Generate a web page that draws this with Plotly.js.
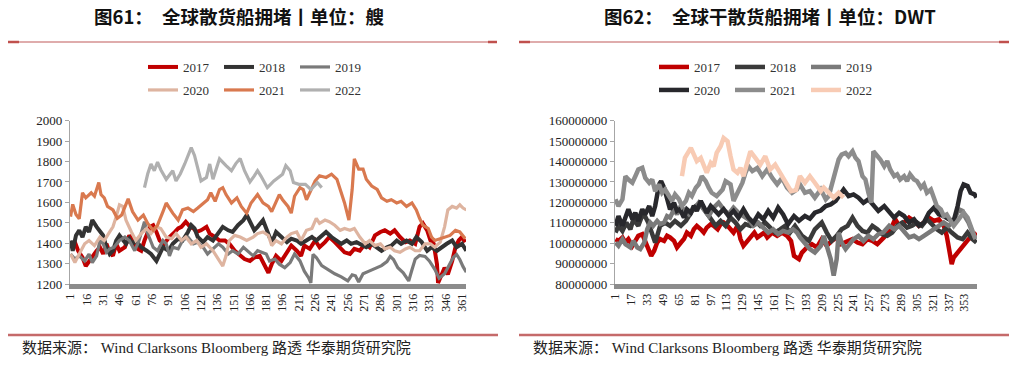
<!DOCTYPE html>
<html><head><meta charset="utf-8">
<script src="https://cdn.plot.ly/plotly-3.0.1.min.js"></script>
<style>html,body{margin:0;padding:0;background:#fff}#chart{width:1015px;height:378px}</style>
</head><body><div id="chart"></div>
<script>
// ---------- Left chart: 全球散货船拥堵 (艘) ----------
const L_ticks = [1,16,31,46,61,76,91,106,121,136,151,166,181,196,211,226,241,256,271,286,301,316,331,346,361];

const L17_day = [1,5,8,12,15,18,21,25,28,31,34,37,40,43,46,51,55,58,63,66,69,74,77,80,83,87,92,97,100,103,107,111,114,117,121,126,129,134,138,143,147,152,157,161,166,170,175,180,183,186,190,195,200,204,209,213,216,221,226,230,235,239,244,249,253,258,262,267,272,276,281,286,290,295,299,304,309,313,318,322,325,329,332,335,338,339,342,345,348,352,355,358,361,364];
const L17_val = [1380,1405,1363,1330,1288,1313,1338,1363,1380,1347,1397,1355,1338,1397,1363,1380,1438,1413,1372,1363,1413,1480,1488,1455,1413,1397,1430,1455,1472,1480,1505,1480,1472,1455,1463,1480,1447,1430,1413,1413,1397,1363,1338,1322,1313,1330,1338,1280,1255,1297,1338,1313,1355,1388,1363,1338,1388,1372,1413,1380,1405,1430,1405,1380,1355,1347,1372,1363,1397,1380,1438,1455,1463,1447,1463,1430,1405,1413,1397,1480,1497,1463,1413,1397,1297,1205,1247,1280,1247,1313,1380,1413,1430,1405];

const L18_day = [1,3,6,9,12,15,18,21,25,28,31,34,37,40,43,46,49,52,55,58,61,66,71,75,80,83,86,91,95,100,104,109,112,115,118,123,127,132,137,141,146,150,155,160,163,166,170,173,178,181,184,187,190,195,200,204,209,213,218,223,227,232,236,241,246,250,255,259,264,269,273,278,283,287,292,296,301,305,310,315,319,324,329,333,338,342,347,352,356,361,365];
const L18_val = [1413,1363,1438,1463,1430,1480,1455,1513,1480,1455,1438,1380,1347,1363,1413,1438,1413,1397,1422,1397,1413,1380,1363,1347,1313,1347,1380,1363,1397,1422,1413,1455,1488,1472,1430,1405,1430,1413,1455,1480,1463,1455,1488,1513,1538,1505,1463,1480,1513,1472,1430,1413,1455,1430,1405,1422,1413,1397,1413,1430,1413,1438,1455,1430,1413,1397,1413,1397,1405,1388,1380,1397,1380,1363,1380,1388,1413,1397,1413,1397,1430,1405,1363,1380,1363,1380,1397,1413,1380,1397,1363];

const L19_day = [1,5,9,14,18,21,25,28,31,34,37,41,46,51,55,60,64,69,72,77,81,86,89,92,95,100,104,109,114,118,123,127,132,137,141,146,150,155,160,164,169,173,178,181,184,189,193,198,203,207,212,216,220,222,224,227,232,238,244,250,256,260,263,266,270,275,281,287,292,295,298,302,307,312,315,318,322,327,331,336,340,345,350,353,356,359,362,365];
const L19_val = [1347,1322,1338,1313,1347,1305,1338,1413,1397,1355,1372,1380,1413,1430,1413,1363,1413,1505,1447,1380,1363,1413,1397,1338,1380,1372,1413,1430,1397,1405,1380,1347,1372,1397,1380,1347,1363,1347,1380,1363,1338,1363,1355,1347,1313,1322,1297,1280,1305,1347,1313,1263,1230,1205,1345,1330,1290,1270,1250,1235,1215,1245,1240,1210,1250,1262,1275,1290,1310,1335,1320,1280,1255,1215,1270,1322,1340,1335,1313,1272,1228,1250,1300,1330,1345,1320,1285,1258];

const L20_day = [1,5,9,14,18,23,28,32,37,40,43,46,49,52,57,61,66,71,75,80,84,89,94,98,103,107,112,117,121,126,132,137,141,144,147,152,157,163,169,173,178,183,186,190,195,200,204,209,213,218,223,227,230,235,239,244,249,253,258,262,267,272,276,281,286,290,295,299,304,309,313,318,322,327,332,336,341,345,348,352,356,359,362,365];
const L20_val = [1347,1305,1347,1397,1413,1388,1430,1413,1455,1480,1530,1588,1580,1513,1455,1413,1447,1472,1447,1480,1472,1430,1422,1447,1413,1430,1397,1413,1380,1397,1363,1322,1288,1338,1413,1438,1430,1413,1430,1447,1455,1438,1388,1413,1397,1430,1447,1455,1413,1463,1472,1522,1497,1513,1505,1488,1463,1472,1463,1472,1430,1397,1413,1388,1397,1372,1380,1363,1355,1372,1380,1363,1363,1397,1397,1380,1405,1480,1563,1580,1572,1588,1572,1563];

const L21_day = [1,3,6,9,12,15,20,23,27,29,32,35,40,44,48,54,58,63,68,72,77,81,86,89,92,95,100,104,109,114,118,123,127,130,134,138,141,144,149,154,158,163,167,173,178,183,186,193,196,201,204,207,212,215,218,221,226,230,236,241,246,249,253,257,260,262,266,270,273,278,283,287,292,296,301,305,310,315,319,322,325,330,333,336,341,345,350,355,359,364];
const L21_val = [1530,1590,1540,1520,1647,1622,1647,1630,1697,1638,1622,1580,1563,1522,1538,1617,1555,1513,1538,1497,1463,1488,1555,1597,1572,1547,1513,1563,1572,1555,1572,1597,1613,1647,1605,1663,1672,1638,1597,1622,1580,1547,1597,1638,1597,1580,1555,1638,1613,1580,1547,1630,1672,1663,1613,1647,1705,1730,1722,1738,1713,1663,1597,1513,1663,1813,1763,1763,1713,1680,1663,1622,1605,1613,1597,1605,1580,1597,1563,1522,1488,1472,1430,1413,1422,1430,1438,1463,1455,1422];

const L22_day = [69,72,75,78,81,84,89,95,98,102,106,109,112,115,118,121,126,129,132,138,144,149,153,157,161,166,170,173,176,182,188,196,199,203,206,211,217,222,228,232];
const L22_val = [1672,1740,1788,1755,1797,1760,1713,1755,1705,1740,1788,1830,1868,1830,1760,1705,1722,1788,1713,1813,1780,1755,1790,1815,1755,1700,1730,1755,1730,1672,1705,1738,1780,1755,1697,1688,1688,1663,1697,1672];

// ---------- Right chart: 全球干散货船拥堵 (DWT, values in millions) ----------
const R_ticks = [1,17,33,49,65,81,97,113,129,145,161,177,193,209,225,241,257,273,289,305,321,337,353];

const R17_day = [1,4,8,11,14,18,21,24,28,31,35,37,40,43,46,50,53,56,60,63,67,70,73,77,80,83,87,90,93,97,100,104,107,110,114,117,120,124,127,130,134,137,141,144,147,151,154,159,164,169,174,178,181,184,186,189,194,199,204,209,214,219,224,228,235,240,245,250,255,260,265,270,275,280,283,287,292,297,302,307,312,317,322,327,332,335,338,340,342,346,349,352,357,362,365];
const R17_valM = [102,101.1,102.8,100.3,102,98.7,101.1,103.6,104.4,101.1,97.1,93.8,96.3,100.3,102,101.1,103.6,102.8,101.1,97.9,100.3,102,105.2,103.6,106.8,108.5,106.8,105.2,107.6,109.3,108.5,106.8,109.3,110.1,108.5,106.8,105.2,108.5,102,98.7,101.1,103.6,105.2,102.8,103.6,105.2,102.8,105.2,103.6,105.2,103.6,101.1,93.8,93,92.2,95.4,97.9,99.5,97.9,102,98.7,101.1,102.8,99.5,101.1,102,100.3,99.5,102,101.1,99.5,102,104.4,108.5,111.7,108.5,110.1,112.5,110.9,108.5,110.1,112.5,110.9,111.7,108.5,103.6,95.4,89.8,93,95.4,97.1,99.5,102,103.6,105.2];

const R18_day = [1,4,8,12,16,19,24,29,34,38,41,46,51,56,61,67,72,77,82,87,92,97,102,107,112,117,122,127,132,137,142,147,152,157,162,167,172,177,182,189,196,202,209,214,219,224,229,235,240,245,250,255,260,265,270,275,280,285,290,295,300,305,310,315,320,325,330,335,340,346,351,356,361,365];
const R18_valM = [105.2,108.5,106,110.1,106.8,111.7,108.5,114.9,110.1,103.6,100.3,108.5,110.1,108.5,110.9,108.5,110.9,114.9,118.2,119,115.8,112.5,108.5,110.9,108.5,112.5,110.1,106.8,109.3,108.5,110.9,108.5,110.1,107.6,105.2,106.8,108.5,105.2,108.5,103.6,101.1,106.8,110.1,105.2,101.1,103.6,106.8,108.5,112.5,108.5,106,105.2,108.5,106.8,104.4,103.6,105.2,108.5,110.1,107.6,108.5,110.1,108.5,111.7,109.3,106.8,105.2,107.6,105.2,102.8,102,105.2,102,100.3];

const R19_day = [1,4,8,11,16,19,23,26,30,33,36,39,43,46,50,53,56,60,63,66,70,75,80,85,90,95,100,105,110,115,120,125,130,135,140,145,150,155,160,165,170,175,180,184,187,192,197,202,208,211,214,218,221,224,226,229,233,236,241,246,251,256,261,266,271,277,282,287,292,297,302,307,312,317,322,327,332,337,342,347,351,354,357,361,364];
const R19_valM = [100.3,98.7,102,99.5,97.9,101.1,97.9,97.1,100.3,106.8,110.1,108.5,110.9,109.3,110.1,113.3,112.5,116.6,114.1,117.4,116.6,114.1,116.6,119.8,116.6,113.3,117.4,119.8,116.6,114.1,117.4,114.9,113.3,111.7,108.5,110.1,107.6,105.2,106.8,104.4,106,105.2,106.8,105.2,102.8,100.3,97.1,95.4,98.7,103.6,98.7,92.2,84.1,92.2,105.2,100.3,97.1,98.7,102,103.6,101.1,103.6,102,104.4,105.2,108.5,106.8,108.5,105.2,102.8,103.6,102,103.6,105.2,106.8,108.5,110.1,108.5,110.9,116.6,115.8,112.5,110.1,105.2,102];

const R20_day = [1,4,8,11,14,18,21,24,28,31,35,38,41,45,47,50,53,56,60,63,66,70,73,77,80,83,87,90,93,97,100,105,110,115,120,125,130,135,140,145,150,155,160,165,170,175,181,186,192,197,202,208,213,218,223,231,236,241,246,251,256,261,266,272,277,282,287,292,297,302,307,312,317,322,327,332,337,342,346,349,352,356,359,363,365];
const R20_valM = [108.5,113.3,108.5,113.3,116.6,111.7,114.9,110.9,116.6,114.1,118.2,113.3,118.2,128.8,130.4,127.2,121.5,116.6,119.8,115.8,116.6,112.5,116.6,114.9,118.2,115.8,120.7,117.4,114.9,118.2,116.6,114.1,116.6,113.3,115.8,112.5,116.6,112.5,110.1,114.1,111.7,115.8,112.5,117.4,114.1,109.3,113.3,111,113.3,112,114.9,116,118.2,119,120.7,126.3,123.1,123.9,122.3,119.8,121.5,118.2,115.8,118.2,114.9,112.5,114.9,113.3,110.1,111.7,108.5,110.1,114.9,117.4,114.1,113.3,111.7,110.9,118.2,125.5,128.8,128,124.7,123.9,122.3];

const R21_day = [1,4,8,11,14,18,21,24,28,31,35,38,41,45,48,51,55,58,61,65,68,72,75,78,82,85,88,92,95,98,103,109,112,117,120,125,129,132,135,139,144,149,154,159,164,169,174,179,184,187,192,197,202,208,213,216,219,223,226,229,233,236,240,243,246,250,253,256,259,261,265,268,272,275,278,282,285,288,292,295,298,302,305,309,312,315,319,322,325,329,332,335,339,342,347,352,356,359,364];
const R21_valM = [121.5,118.2,121.5,132.8,131.2,129.6,132.8,136.1,136.9,132,129.6,131.2,125.5,128.8,124.7,126.3,123.1,120.7,123.9,121.5,118.2,120.7,124.7,123.1,127.2,128.8,132.8,130.4,127.2,124.7,123.1,126.3,130.4,128.8,120.7,126.3,129.6,134.5,137.7,135.3,136.9,132.8,136.1,132,128.8,132,127.2,124.7,126.3,128.8,124.7,125.5,122.3,126.3,121.5,123.1,128,136.1,141,143.4,144.2,142.6,145,141.8,140.2,132.8,131.2,124.7,119.8,145,142.6,141,137.7,140.2,136.1,132.8,133.7,131.2,132.8,130.4,133.7,131.2,130.4,127.2,128.8,124.7,126.3,121.5,118.2,116.6,113.3,114.1,110.9,108.5,111.7,114.9,112.5,108.5,102];

const R22_day = [68,71,77,80,83,87,90,93,97,100,103,107,110,114,117,120,124,127,130,134,137,142,147,152,157,162,167,173,178,183,187,192,197,202,208,211,216,221,226,231];
const R22_valM = [132.8,141.8,146.7,143.4,140.2,141.8,138.5,134.5,139.3,137.7,144.2,147.5,151.5,149.9,142.6,136.1,134.5,136.9,132.8,139.3,145,141.8,138.5,142.6,136.1,138.5,134.5,129.6,125.5,126,132.8,129.6,132.8,129.6,125.5,127.2,124.7,122.3,124.7,122.3];

const YEARS = ['2017','2018','2019','2020','2021','2022'];

// ---------- build ----------
const W = 1015, H = 378;
const px = x => x / W, py = y => 1 - y / H;
const SERIF = '"Liberation Serif", "Times New Roman", "Noto Sans CJK SC", serif';
const CJK = '"Noto Sans CJK SC", "Liberation Sans", sans-serif';
const M = a => a.map(v => v * 1e6);

function tr(x, y, name, color, width, xa, ya, leg) {
  return {type:'scatter', mode:'lines', x, y, name, xaxis:xa, yaxis:ya, legend:leg,
    line:{color, width, shape:'linear'}, hoverinfo:'skip'};
}

const data = [
  tr(L17_day, L17_val, YEARS[0], '#c00000', 4,   'x', 'y', 'legend'),
  tr(L18_day, L18_val, YEARS[1], '#333333', 4,   'x', 'y', 'legend'),
  tr(L19_day, L19_val, YEARS[2], '#7a7a7a', 3.2, 'x', 'y', 'legend'),
  tr(L20_day, L20_val, YEARS[3], '#deb4a0', 3.2, 'x', 'y', 'legend2'),
  tr(L21_day, L21_val, YEARS[4], '#d9794f', 3.2, 'x', 'y', 'legend2'),
  tr(L22_day, L22_val, YEARS[5], '#b0b0b0', 3.2, 'x', 'y', 'legend2'),

  tr(R17_day, M(R17_valM), YEARS[0], '#c00000', 4.5, 'x2', 'y2', 'legend3'),
  tr(R18_day, M(R18_valM), YEARS[1], '#3a3a3a', 4.5, 'x2', 'y2', 'legend3'),
  tr(R19_day, M(R19_valM), YEARS[2], '#7a7a7a', 4.5, 'x2', 'y2', 'legend3'),
  tr(R20_day, M(R20_valM), YEARS[3], '#28282c', 4.5, 'x2', 'y2', 'legend4'),
  tr(R21_day, M(R21_valM), YEARS[4], '#8c8c8c', 4.5, 'x2', 'y2', 'legend4'),
  tr(R22_day, M(R22_valM), YEARS[5], '#f8cbb4', 4.5, 'x2', 'y2', 'legend4')
];

const xBase = {
  tickangle:-90, tickfont:{family:SERIF, size:12, color:'#222'},
  showline:true, linecolor:'#8c8c8c', linewidth:5, showgrid:false, zeroline:false,
  ticks:'', tickmode:'array', fixedrange:true
};
const yBase = {
  tickfont:{family:SERIF, size:13, color:'#222'}, showline:true, linecolor:'#a6a6a6', linewidth:1.2,
  ticks:'outside', ticklen:4, tickcolor:'#a6a6a6', showgrid:false, zeroline:false, fixedrange:true
};
const yDom = [py(284), py(120.7)];

function legendAt(x, y) {
  return {orientation:'h', x:px(x), y:py(y), xanchor:'left', yanchor:'top',
    font:{family:SERIF, size:13, color:'#333'}, entrywidth:31, entrywidthmode:'pixels',
    bgcolor:'rgba(0,0,0,0)', borderwidth:0, traceorder:'normal', itemclick:false, itemdoubleclick:false};
}

const ruleC = '#d49090', ruleEnd = '#c0504d', footC = '#c56a6a';
function hline(x0, x1, y, color, width) {
  return {type:'line', xref:'paper', yref:'paper', x0:px(x0), x1:px(x1), y0:py(y), y1:py(y), line:{color, width}};
}

const SRC = '数据来源： Wind Clarksons Bloomberg 路透 华泰期货研究院';

const layout = {
  width:W, height:H, margin:{l:0, r:0, t:0, b:0},
  paper_bgcolor:'#fff', plot_bgcolor:'#fff',
  xaxis: Object.assign({}, xBase, {domain:[px(70), px(466)], range:[0.5, 364.7], tickvals:L_ticks, ticktext:L_ticks.map(String), anchor:'y'}),
  yaxis: Object.assign({}, yBase, {domain:yDom, range:[1200, 2000], dtick:100, tick0:1200, anchor:'x'}),
  xaxis2: Object.assign({}, xBase, {domain:[px(615), px(977)], range:[0.5, 365.5], tickvals:R_ticks, ticktext:R_ticks.map(String), anchor:'y2'}),
  yaxis2: Object.assign({}, yBase, {domain:yDom, range:[80e6, 160e6], dtick:1e7, tick0:80e6, tickformat:'d', exponentformat:'none', anchor:'x2'}),
  legend: legendAt(143, 52),
  legend2: legendAt(143, 75),
  legend3: legendAt(654, 52),
  legend4: legendAt(654, 75),
  shapes: [
    hline(8, 497, 42, ruleC, 1.5), hline(8, 19, 42, ruleEnd, 2.5), hline(488, 497, 42, ruleEnd, 2.5),
    hline(519, 1009, 42, ruleC, 1.5), hline(519, 530, 42, ruleEnd, 2.5), hline(999, 1009, 42, ruleEnd, 2.5),
    hline(8, 498, 335, footC, 2.5), hline(519, 1009, 335, footC, 2.5)
  ],
  annotations: [
    {xref:'paper', yref:'paper', x:px(239), y:py(16), xanchor:'center', yanchor:'middle', showarrow:false,
     text:'<b>图61：　全球散货船拥堵丨单位：艘</b>', font:{family:CJK, size:18.5, color:'#111'}},
    {xref:'paper', yref:'paper', x:px(770), y:py(16), xanchor:'center', yanchor:'middle', showarrow:false,
     text:'<b>图62：　全球干散货船拥堵丨单位：DWT</b>', font:{family:CJK, size:18.5, color:'#111'}},
    {xref:'paper', yref:'paper', x:px(20), y:py(347), xanchor:'left', yanchor:'middle', showarrow:false,
     text:SRC, font:{family:SERIF, size:15, color:'#222'}},
    {xref:'paper', yref:'paper', x:px(531), y:py(347), xanchor:'left', yanchor:'middle', showarrow:false,
     text:SRC, font:{family:SERIF, size:15, color:'#222'}}
  ]
};

Plotly.newPlot('chart', data, layout, {displayModeBar:false, staticPlot:true});
</script>
</body></html>
